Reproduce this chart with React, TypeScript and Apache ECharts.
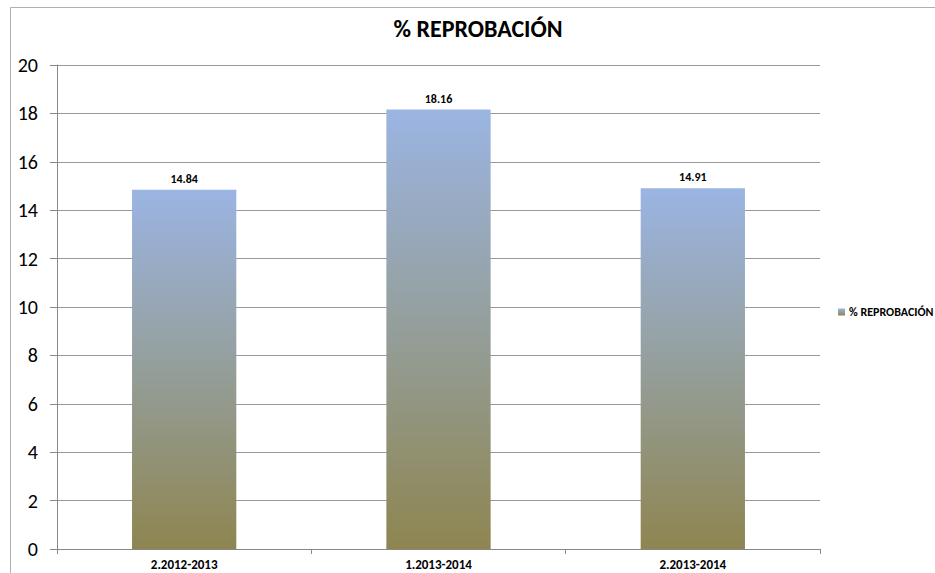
import React, { useEffect, useRef } from "react";
import * as echarts from "echarts";

const categories = ["2.2012-2013", "1.2013-2014", "2.2013-2014"];
const values = [14.84, 18.16, 14.91];
const seriesName = "% REPROBACIÓN";
const titleText = "% REPROBACIÓN";

const FONT = 'Carlito, Calibri, "Open Sans", "Noto Sans", sans-serif';

export default function App() {
  const ref = useRef<HTMLDivElement>(null);
  useEffect(() => {
    if (!ref.current) return;
    const chart = echarts.init(ref.current, undefined, { renderer: "svg" });
    const grad = new echarts.graphic.LinearGradient(0, 0, 0, 1, [
      { offset: 0, color: "#9bb5e3" },
      { offset: 0.5, color: "#949e9a" },
      { offset: 1, color: "#8e8550" },
    ]);
    chart.setOption({
      animation: false,
      backgroundColor: "#ffffff",
      textStyle: { fontFamily: FONT },
      title: {
        text: titleText,
        left: 478,
        textAlign: "center",
        top: 16,
        padding: 0,
        textStyle: { fontSize: 24, fontWeight: "bold", color: "#000", fontFamily: FONT },
      },
      legend: {
        data: [seriesName],
        left: 838,
        top: 306,
        padding: 0,
        itemWidth: 7,
        itemHeight: 7,
        itemGap: 4,
        icon: "rect",
        textStyle: { fontSize: 12, fontWeight: "bold", color: "#000", fontFamily: FONT, padding: [0, 0, 0, -1] },
      },
      graphic: [
        {
          type: "polyline",
          shape: { points: [[10.5, 573], [10.5, 7.5], [935, 7.5]] },
          style: { stroke: "#b0b0b0", lineWidth: 1, fill: "none" },
          silent: true,
        },
      ],
      grid: { left: 57, right: 115, top: 65, bottom: 24, containLabel: false },
      xAxis: {
        type: "category",
        data: categories,
        axisLine: { show: true, lineStyle: { color: "#888", width: 1 } },
        axisTick: { show: true, length: 5, lineStyle: { color: "#888" } },
        axisLabel: { fontSize: 13, fontWeight: "bold", color: "#000", margin: 9, fontFamily: FONT },
      },
      yAxis: {
        type: "value",
        min: 0,
        max: 20,
        interval: 2,
        axisLine: { show: true, lineStyle: { color: "#888", width: 1 } },
        axisTick: { show: true, length: 7, lineStyle: { color: "#888" } },
        splitLine: { show: true, lineStyle: { color: "#999", width: 1 } },
        axisLabel: { fontSize: 20, color: "#000", margin: 19, fontFamily: FONT },
      },
      series: [
        {
          name: seriesName,
          type: "bar",
          data: values,
          barWidth: "41%",
          itemStyle: { color: grad },
          label: {
            show: true,
            position: "top",
            distance: 5,
            fontSize: 12,
            fontWeight: "bold",
            color: "#000",
            fontFamily: FONT,
            formatter: (p: any) => p.value.toFixed(2),
          },
        },
      ],
    });
    return () => chart.dispose();
  }, []);
  return (
    <div
      ref={ref}
      style={{ position: "fixed", left: 0, top: 0, width: 935, height: 573 }}
    />
  );
}
